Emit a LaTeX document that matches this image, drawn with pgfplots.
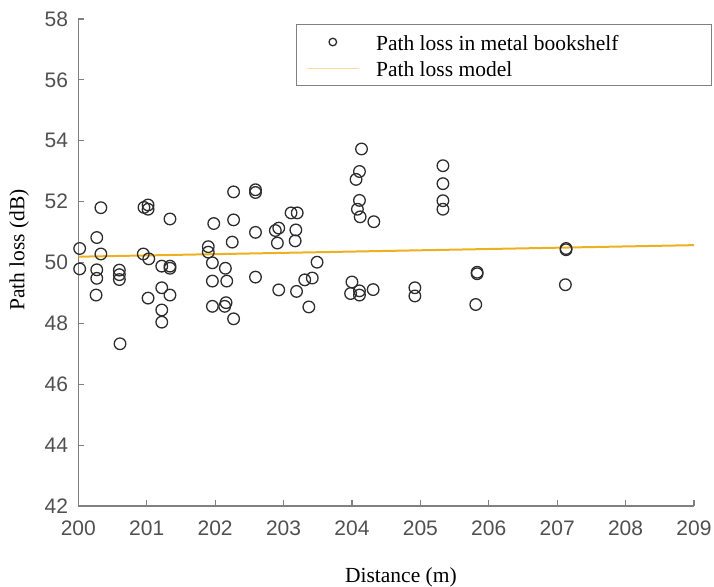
\documentclass[border=0pt]{standalone}
\usepackage{pgfplots}
\pgfplotsset{compat=1.18}
\usepackage{fontspec}
\setmainfont{Liberation Serif}
\newfontfamily\sansfont{Liberation Sans}
\definecolor{axgray}{RGB}{128,128,128}
\definecolor{ticklab}{RGB}{80,80,80}
\definecolor{mkcol}{RGB}{45,45,45}
\definecolor{fitcol}{RGB}{237,177,32}
\pgfplotsset{
  legA/.style={legend image code/.code={\path[draw=none] (0pt,0pt) -- (51.6pt,0pt);
    \draw[mkcol, line width=1.3pt, fill=none] (25.8pt,0pt) circle (3.8pt);}},
  legB/.style={legend image code/.code={\draw[draw=fitcol!45, line width=1pt] (0pt,0pt) -- (51.6pt,0pt);}},
}
\begin{document}
\begin{tikzpicture}
\useasboundingbox (-78.3pt,-80pt) rectangle (635.7pt,506pt);
\begin{axis}[
  scale only axis,
  width=615.7pt, height=487pt,
  xmin=200, xmax=209, ymin=42, ymax=58,
  enlargelimits=false,
  axis x line*=bottom, axis y line*=left,
  axis line style={axgray, line width=1.2pt},
  tick style={axgray, line width=1.2pt},
  tick align=inside,
  major tick length=6pt,
  xtick={200,201,...,209},
  ytick={42,44,...,58},
  /pgf/number format/assume math mode=true,
  /pgf/number format/1000 sep={},
  ticklabel style={font=\sansfont\fontsize{21}{21}\selectfont, text=ticklab},
  xticklabel style={anchor=north, inner sep=0pt, yshift=-15pt},
  yticklabel style={anchor=east, inner sep=0pt, xshift=-10pt},
  xlabel={Distance (m)},
  ylabel={Path loss (dB)},
  label style={font=\fontsize{21.5}{21.5}\selectfont, text=black},
  xlabel style={at={([yshift=-76pt]axis description cs:0.524,0)}, anchor=base},
  ylabel style={at={([xshift=-59pt]axis description cs:0,0.526)}, anchor=center},
  legend style={at={(0.3536,0.9897)}, anchor=north west, draw=axgray, line width=1pt,
    font=\fontsize{21.5}{21.5}\selectfont, inner xsep=10pt, inner ysep=6pt,
    nodes={inner sep=0pt, text height=20pt, text depth=3pt},
    column sep=17pt, row sep=3pt},
  legend cell align=left,
]
\addplot[only marks, mark=o, mark size=5.8pt, mark options={mkcol, line width=1.3pt}, legA]
table {
x y
200.02 50.46
200.02 49.79
200.27 50.82
200.27 49.76
200.27 49.48
200.26 48.93
200.33 51.80
200.33 50.28
200.60 49.75
200.60 49.60
200.60 49.44
200.61 47.33
200.96 51.81
201.02 51.89
201.02 51.75
200.95 50.28
201.03 50.12
201.02 48.83
201.22 49.88
201.22 49.17
201.22 48.44
201.22 48.04
201.34 51.43
201.34 49.88
201.34 49.81
201.34 48.93
201.90 50.52
201.90 50.34
201.98 51.28
201.96 49.99
201.96 49.39
201.96 48.56
202.15 49.81
202.17 49.39
202.16 48.68
202.14 48.56
202.27 52.32
202.27 51.40
202.25 50.67
202.27 48.15
202.59 52.39
202.59 52.30
202.59 50.99
202.59 49.52
202.88 51.05
202.93 51.13
202.91 50.64
202.93 49.10
203.11 51.63
203.20 51.63
203.18 51.07
203.17 50.71
203.19 49.05
203.31 49.43
203.42 49.49
203.49 50.01
203.37 48.54
204.14 53.73
204.11 52.99
204.06 52.73
204.11 52.04
204.08 51.75
204.12 51.50
204.32 51.34
204.00 49.36
203.98 48.98
204.11 49.07
204.11 48.93
204.31 49.11
204.92 49.17
204.92 48.90
205.33 53.18
205.33 52.59
205.33 52.03
205.33 51.75
205.83 49.63
205.83 49.68
205.81 48.62
207.13 50.42
207.13 50.46
207.12 49.27
};
\addlegendentry{\makebox[325pt][l]{Path loss in metal bookshelf}}
\addplot[fitcol, line width=2pt, no marks, legB]
table {
x y
200 50.19
209 50.57
};
\addlegendentry{Path loss model}
\end{axis}
\end{tikzpicture}
\end{document}
